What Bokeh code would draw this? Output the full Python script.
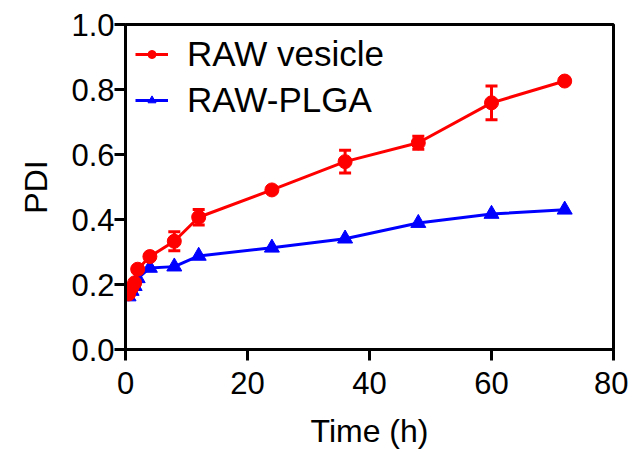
from bokeh.plotting import figure
from bokeh.models import ColumnDataSource, Whisker, Legend, LegendItem, FixedTicker, NumeralTickFormatter, TeeHead
from bokeh.embed import file_html
from bokeh.resources import INLINE

time_h = [0.5, 1, 1.5, 2, 4, 8, 12, 24, 36, 48, 60, 72]
vesicle_pdi = [0.171, 0.19, 0.205, 0.247, 0.286, 0.333, 0.407, 0.491, 0.578, 0.636, 0.759, 0.826]
vesicle_err = [0.0, 0.0, 0.0, 0.008, 0.008, 0.029, 0.024, 0.008, 0.035, 0.02, 0.052, 0.006]
plga_pdi = [0.163, 0.18, 0.195, 0.219, 0.251, 0.255, 0.288, 0.313, 0.341, 0.389, 0.417, 0.43]
x_ticks = [0, 20, 40, 60, 80]
y_ticks = [0.0, 0.2, 0.4, 0.6, 0.8, 1.0]

FONT = "Liberation Sans"
RED = "#ff0000"
BLUE = "#0000ff"

p = figure(frame_width=488, frame_height=325, x_range=(0, 80), y_range=(0, 1.0),
           output_backend="svg", toolbar_location=None,
           min_border_left=125, min_border_right=15, min_border_top=24, min_border_bottom=95)
p.grid.visible = False
p.outline_line_color = "black"
p.outline_line_width = 3
p.background_fill_color = "white"
p.border_fill_color = "white"

vsrc = ColumnDataSource(dict(x=time_h, y=vesicle_pdi,
                             lo=[v - e for v, e in zip(vesicle_pdi, vesicle_err)],
                             hi=[v + e for v, e in zip(vesicle_pdi, vesicle_err)]))
psrc = ColumnDataSource(dict(x=time_h, y=plga_pdi))

wh = Whisker(source=vsrc, base="x", lower="lo", upper="hi", line_color=RED, line_width=3,
             level="underlay",
             upper_head=TeeHead(size=12, line_color=RED, line_width=3),
             lower_head=TeeHead(size=12, line_color=RED, line_width=3))
p.add_layout(wh)

bl = p.line("x", "y", source=psrc, line_color=BLUE, line_width=3)
bm = p.scatter("x", "y", source=psrc, marker="triangle", size=15, fill_color=BLUE, line_color=BLUE)
rl = p.line("x", "y", source=vsrc, line_color=RED, line_width=3)
rm = p.scatter("x", "y", source=vsrc, marker="circle", size=14, fill_color=RED, line_color=RED)

legend = Legend(items=[LegendItem(label="RAW vesicle", renderers=[rl, rm]),
                       LegendItem(label="RAW-PLGA", renderers=[bl, bm])],
                location="top_left")
legend.border_line_color = None
legend.background_fill_alpha = 0
legend.label_text_font = FONT
legend.label_text_font_size = "35px"
legend.label_text_color = "black"
legend.glyph_width = 33
legend.glyph_height = 20
legend.label_standoff = 19
legend.spacing = 6
legend.padding = 0
legend.margin = 10
p.add_layout(legend)

for ax in (p.xaxis[0], p.yaxis[0]):
    ax.axis_line_width = 3
    ax.axis_line_color = "black"
    ax.major_tick_line_width = 3
    ax.major_tick_line_color = "black"
    ax.major_tick_out = 11
    ax.major_tick_in = 0
    ax.minor_tick_line_color = None
    ax.major_label_text_font = FONT
    ax.major_label_text_font_size = "31px"
    ax.major_label_text_color = "black"
    ax.axis_label_text_font = FONT
    ax.axis_label_text_font_size = "32px"
    ax.axis_label_text_font_style = "normal"
    ax.axis_label_text_color = "black"

p.xaxis.ticker = FixedTicker(ticks=x_ticks)
p.yaxis.ticker = FixedTicker(ticks=y_ticks)
p.yaxis.formatter = NumeralTickFormatter(format="0.0")
p.xaxis.axis_label = "Time (h)"
p.yaxis.axis_label = "PDI"
p.xaxis.major_label_standoff = 11
p.yaxis.major_label_standoff = 0
p.xaxis.axis_label_standoff = 16
p.yaxis.axis_label_standoff = 14

open("out.html", "w").write(file_html(p, INLINE))
